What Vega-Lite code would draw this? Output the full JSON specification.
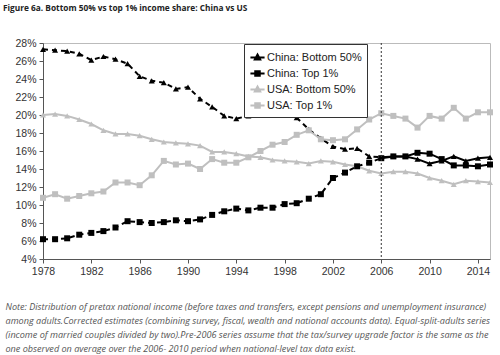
{
  "$schema": "https://vega.github.io/schema/vega-lite/v6.json",
  "autosize": {"type": "none"},
  "width": 447,
  "height": 216,
  "padding": {"left": 43, "top": 43, "right": 10, "bottom": 96},
  "background": "white",
  "config": {
    "view": {"stroke": "#bbbbbb", "strokeWidth": 1},
    "font": "Liberation Sans"
  },
  "title": {
    "text": "Figure 6a. Bottom 50% vs top 1% income share: China vs US",
    "anchor": "start",
    "frame": "group",
    "dx": -40,
    "offset": 26,
    "font": "Open Sans",
    "fontSize": 8.3,
    "fontWeight": "bold",
    "color": "#222222"
  },
  "datasets": {
    "shares": [
      {"year":1978,"series":"China: Bottom 50%","value":27.3},{"year":1979,"series":"China: Bottom 50%","value":27.2},{"year":1980,"series":"China: Bottom 50%","value":27.1},{"year":1981,"series":"China: Bottom 50%","value":26.8},{"year":1982,"series":"China: Bottom 50%","value":26.1},{"year":1983,"series":"China: Bottom 50%","value":26.5},{"year":1984,"series":"China: Bottom 50%","value":26.2},{"year":1985,"series":"China: Bottom 50%","value":25.7},{"year":1986,"series":"China: Bottom 50%","value":24.3},{"year":1987,"series":"China: Bottom 50%","value":23.8},{"year":1988,"series":"China: Bottom 50%","value":23.6},{"year":1989,"series":"China: Bottom 50%","value":22.9},{"year":1990,"series":"China: Bottom 50%","value":23.1},{"year":1991,"series":"China: Bottom 50%","value":21.8},{"year":1992,"series":"China: Bottom 50%","value":20.9},{"year":1993,"series":"China: Bottom 50%","value":19.9},{"year":1994,"series":"China: Bottom 50%","value":19.6},{"year":1995,"series":"China: Bottom 50%","value":19.9},{"year":1996,"series":"China: Bottom 50%","value":20.6},{"year":1997,"series":"China: Bottom 50%","value":20.4},{"year":1998,"series":"China: Bottom 50%","value":20.4},{"year":1999,"series":"China: Bottom 50%","value":19.7},{"year":2000,"series":"China: Bottom 50%","value":18.4},{"year":2001,"series":"China: Bottom 50%","value":17.4},{"year":2002,"series":"China: Bottom 50%","value":16.5},{"year":2003,"series":"China: Bottom 50%","value":16.2},{"year":2004,"series":"China: Bottom 50%","value":16.3},{"year":2005,"series":"China: Bottom 50%","value":15.4},{"year":2006,"series":"China: Bottom 50%","value":15.3},{"year":2007,"series":"China: Bottom 50%","value":15.4},{"year":2008,"series":"China: Bottom 50%","value":15.4},{"year":2009,"series":"China: Bottom 50%","value":15.1},{"year":2010,"series":"China: Bottom 50%","value":14.6},{"year":2011,"series":"China: Bottom 50%","value":14.9},{"year":2012,"series":"China: Bottom 50%","value":15.4},{"year":2013,"series":"China: Bottom 50%","value":14.9},{"year":2014,"series":"China: Bottom 50%","value":15.2},{"year":2015,"series":"China: Bottom 50%","value":15.3},
      {"year":1978,"series":"China: Top 1%","value":6.2},{"year":1979,"series":"China: Top 1%","value":6.2},{"year":1980,"series":"China: Top 1%","value":6.3},{"year":1981,"series":"China: Top 1%","value":6.7},{"year":1982,"series":"China: Top 1%","value":6.9},{"year":1983,"series":"China: Top 1%","value":7.1},{"year":1984,"series":"China: Top 1%","value":7.5},{"year":1985,"series":"China: Top 1%","value":8.2},{"year":1986,"series":"China: Top 1%","value":8.1},{"year":1987,"series":"China: Top 1%","value":8.0},{"year":1988,"series":"China: Top 1%","value":8.1},{"year":1989,"series":"China: Top 1%","value":8.3},{"year":1990,"series":"China: Top 1%","value":8.2},{"year":1991,"series":"China: Top 1%","value":8.4},{"year":1992,"series":"China: Top 1%","value":8.9},{"year":1993,"series":"China: Top 1%","value":9.3},{"year":1994,"series":"China: Top 1%","value":9.6},{"year":1995,"series":"China: Top 1%","value":9.4},{"year":1996,"series":"China: Top 1%","value":9.7},{"year":1997,"series":"China: Top 1%","value":9.7},{"year":1998,"series":"China: Top 1%","value":10.1},{"year":1999,"series":"China: Top 1%","value":10.2},{"year":2000,"series":"China: Top 1%","value":10.7},{"year":2001,"series":"China: Top 1%","value":11.2},{"year":2002,"series":"China: Top 1%","value":13.0},{"year":2003,"series":"China: Top 1%","value":13.6},{"year":2004,"series":"China: Top 1%","value":14.3},{"year":2005,"series":"China: Top 1%","value":14.7},{"year":2006,"series":"China: Top 1%","value":15.2},{"year":2007,"series":"China: Top 1%","value":15.4},{"year":2008,"series":"China: Top 1%","value":15.4},{"year":2009,"series":"China: Top 1%","value":15.8},{"year":2010,"series":"China: Top 1%","value":15.7},{"year":2011,"series":"China: Top 1%","value":15.1},{"year":2012,"series":"China: Top 1%","value":14.4},{"year":2013,"series":"China: Top 1%","value":14.4},{"year":2014,"series":"China: Top 1%","value":14.3},{"year":2015,"series":"China: Top 1%","value":14.5},
      {"year":1978,"series":"USA: Bottom 50%","value":20.0},{"year":1979,"series":"USA: Bottom 50%","value":20.1},{"year":1980,"series":"USA: Bottom 50%","value":19.9},{"year":1981,"series":"USA: Bottom 50%","value":19.5},{"year":1982,"series":"USA: Bottom 50%","value":19.0},{"year":1983,"series":"USA: Bottom 50%","value":18.3},{"year":1984,"series":"USA: Bottom 50%","value":17.9},{"year":1985,"series":"USA: Bottom 50%","value":17.9},{"year":1986,"series":"USA: Bottom 50%","value":17.7},{"year":1987,"series":"USA: Bottom 50%","value":17.3},{"year":1988,"series":"USA: Bottom 50%","value":17.0},{"year":1989,"series":"USA: Bottom 50%","value":16.9},{"year":1990,"series":"USA: Bottom 50%","value":16.8},{"year":1991,"series":"USA: Bottom 50%","value":16.6},{"year":1992,"series":"USA: Bottom 50%","value":15.9},{"year":1993,"series":"USA: Bottom 50%","value":15.9},{"year":1994,"series":"USA: Bottom 50%","value":15.7},{"year":1995,"series":"USA: Bottom 50%","value":15.4},{"year":1996,"series":"USA: Bottom 50%","value":15.3},{"year":1997,"series":"USA: Bottom 50%","value":15.0},{"year":1998,"series":"USA: Bottom 50%","value":14.9},{"year":1999,"series":"USA: Bottom 50%","value":14.8},{"year":2000,"series":"USA: Bottom 50%","value":14.6},{"year":2001,"series":"USA: Bottom 50%","value":14.9},{"year":2002,"series":"USA: Bottom 50%","value":14.8},{"year":2003,"series":"USA: Bottom 50%","value":14.5},{"year":2004,"series":"USA: Bottom 50%","value":14.3},{"year":2005,"series":"USA: Bottom 50%","value":13.8},{"year":2006,"series":"USA: Bottom 50%","value":13.5},{"year":2007,"series":"USA: Bottom 50%","value":13.7},{"year":2008,"series":"USA: Bottom 50%","value":13.7},{"year":2009,"series":"USA: Bottom 50%","value":13.5},{"year":2010,"series":"USA: Bottom 50%","value":13.0},{"year":2011,"series":"USA: Bottom 50%","value":12.7},{"year":2012,"series":"USA: Bottom 50%","value":12.3},{"year":2013,"series":"USA: Bottom 50%","value":12.7},{"year":2014,"series":"USA: Bottom 50%","value":12.6},{"year":2015,"series":"USA: Bottom 50%","value":12.5},
      {"year":1978,"series":"USA: Top 1%","value":10.8},{"year":1979,"series":"USA: Top 1%","value":11.2},{"year":1980,"series":"USA: Top 1%","value":10.7},{"year":1981,"series":"USA: Top 1%","value":11.0},{"year":1982,"series":"USA: Top 1%","value":11.3},{"year":1983,"series":"USA: Top 1%","value":11.5},{"year":1984,"series":"USA: Top 1%","value":12.5},{"year":1985,"series":"USA: Top 1%","value":12.5},{"year":1986,"series":"USA: Top 1%","value":12.2},{"year":1987,"series":"USA: Top 1%","value":13.3},{"year":1988,"series":"USA: Top 1%","value":14.9},{"year":1989,"series":"USA: Top 1%","value":14.5},{"year":1990,"series":"USA: Top 1%","value":14.6},{"year":1991,"series":"USA: Top 1%","value":14.0},{"year":1992,"series":"USA: Top 1%","value":15.1},{"year":1993,"series":"USA: Top 1%","value":14.7},{"year":1994,"series":"USA: Top 1%","value":14.7},{"year":1995,"series":"USA: Top 1%","value":15.3},{"year":1996,"series":"USA: Top 1%","value":16.0},{"year":1997,"series":"USA: Top 1%","value":16.7},{"year":1998,"series":"USA: Top 1%","value":17.0},{"year":1999,"series":"USA: Top 1%","value":17.8},{"year":2000,"series":"USA: Top 1%","value":18.3},{"year":2001,"series":"USA: Top 1%","value":17.3},{"year":2002,"series":"USA: Top 1%","value":17.2},{"year":2003,"series":"USA: Top 1%","value":17.3},{"year":2004,"series":"USA: Top 1%","value":18.4},{"year":2005,"series":"USA: Top 1%","value":19.5},{"year":2006,"series":"USA: Top 1%","value":20.2},{"year":2007,"series":"USA: Top 1%","value":19.9},{"year":2008,"series":"USA: Top 1%","value":19.6},{"year":2009,"series":"USA: Top 1%","value":18.6},{"year":2010,"series":"USA: Top 1%","value":19.9},{"year":2011,"series":"USA: Top 1%","value":19.6},{"year":2012,"series":"USA: Top 1%","value":20.8},{"year":2013,"series":"USA: Top 1%","value":19.6},{"year":2014,"series":"USA: Top 1%","value":20.3},{"year":2015,"series":"USA: Top 1%","value":20.3}
    ],
    "marker": [{"year": 2006}]
  },
  "encoding": {
    "x": {
      "field": "year",
      "type": "quantitative",
      "scale": {"domain": [1978, 2015], "nice": false, "zero": false},
      "axis": {
        "values": [1978, 1982, 1986, 1990, 1994, 1998, 2002, 2006, 2010, 2014],
        "format": "d",
        "grid": false,
        "domainColor": "#555555",
        "tickColor": "#555555",
        "tickSize": 4,
        "labelFont": "Liberation Sans",
        "labelFontSize": 10.5,
        "labelColor": "#333333",
        "labelPadding": 3,
        "labelFlush": false,
        "title": [
          "Note: Distribution of pretax national income (before taxes and transfers, except pensions and unemployment insurance)",
          "among adults.Corrected estimates (combining survey, fiscal, wealth and national accounts data). Equal-split-adults series",
          "(income of married couples divided by two).Pre-2006 series assume that the tax/survey upgrade factor is the same as the",
          "one observed on average over the 2006- 2010 period when national-level tax data exist."
        ],
        "titleFont": "Open Sans",
        "titleFontStyle": "italic",
        "titleFontWeight": "normal",
        "titleFontSize": 9.1,
        "titleColor": "#555555",
        "titleLineHeight": 14,
        "titleAnchor": "start",
        "titleAlign": "left",
        "titleBaseline": "top",
        "titleX": -38,
        "titleY": 43
      }
    },
    "y": {
      "field": "value",
      "type": "quantitative",
      "scale": {"domain": [4, 28], "nice": false, "zero": false},
      "axis": {
        "values": [4, 6, 8, 10, 12, 14, 16, 18, 20, 22, 24, 26, 28],
        "labelExpr": "datum.value + '%'",
        "grid": false,
        "title": null,
        "domainColor": "#555555",
        "tickColor": "#555555",
        "tickSize": 4,
        "labelFont": "Liberation Sans",
        "labelFontSize": 10.5,
        "labelColor": "#333333",
        "labelPadding": 3
      }
    },
    "color": {"field": "series", "type": "nominal",
      "scale": {"domain": ["China: Bottom 50%", "China: Top 1%", "USA: Bottom 50%", "USA: Top 1%"], "range": ["#000000", "#000000", "#bfbfbf", "#bfbfbf"]},
      "legend": {
        "orient": "none",
        "legendX": 201,
        "legendY": 1,
        "title": null,
        "strokeColor": "#333333",
        "fillColor": "white",
        "padding": 5,
        "labelFont": "Liberation Sans",
        "labelFontSize": 11,
        "labelColor": "#222222",
        "labelOffset": 1,
        "symbolSize": 200,
        "rowPadding": 1,
        "symbolStrokeWidth": 2,
        "encode": {
          "symbols": {
            "update": {
              "shape": {"signal": "indexof(datum.value, 'Bottom') >= 0 ? 'M-1,0L1,0M0,-0.42L0.38,0.28L-0.38,0.28Z' : 'M-1,0L1,0M-0.32,-0.32L0.32,-0.32L0.32,0.32L-0.32,0.32Z'"},
              "fill": {"signal": "indexof(datum.value, 'China') >= 0 ? '#000000' : '#bfbfbf'"},
              "stroke": {"signal": "indexof(datum.value, 'China') >= 0 ? '#000000' : '#bfbfbf'"},
              "strokeWidth": {"value": 2},
              "opacity": {"value": 1}
            }
          }
        }
      }
    }
  },
  "layer": [
    {
      "data": {"name": "shares"},
      "transform": [{"filter": "indexof(datum.series, 'China') >= 0 && datum.year <= 2006"}],
      "mark": {"type": "line", "strokeWidth": 2, "strokeDash": [5, 4]}
    },
    {
      "data": {"name": "shares"},
      "transform": [{"filter": "indexof(datum.series, 'USA') >= 0 || datum.year >= 2006"}],
      "mark": {"type": "line", "strokeWidth": 2}
    },
    {
      "data": {"name": "shares"},
      "transform": [{"filter": "indexof(datum.series, 'Bottom') >= 0"}],
      "mark": {"type": "point", "shape": "triangle-up", "filled": true, "opacity": 1, "size": 36}
    },
    {
      "data": {"name": "shares"},
      "transform": [{"filter": "indexof(datum.series, 'Top') >= 0"}],
      "mark": {"type": "point", "shape": "square", "filled": true, "opacity": 1, "size": 36}
    },
    {
      "data": {"name": "marker"},
      "mark": {"type": "rule", "color": "#333333", "strokeWidth": 1, "strokeDash": [2, 2]},
      "encoding": {"y": null, "color": null}
    }
  ]
}
